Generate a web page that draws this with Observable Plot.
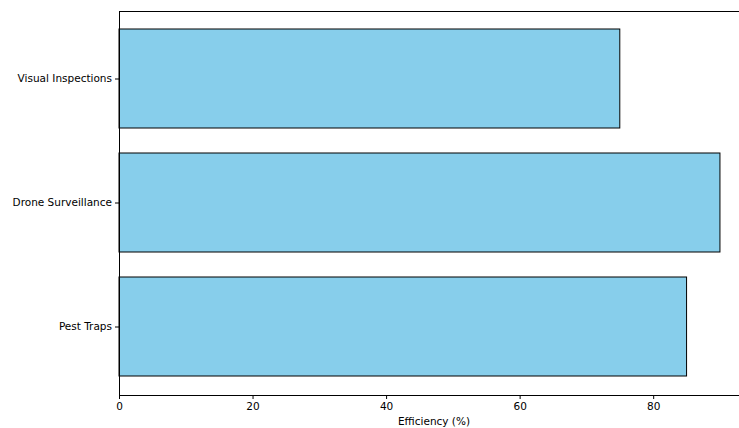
<!DOCTYPE html>
<html>
<head>
<meta charset="utf-8">
<script src="https://cdn.jsdelivr.net/npm/d3@7"></script>
<script src="https://cdn.jsdelivr.net/npm/@observablehq/plot@0.6"></script>
<style>
  html, body { margin: 0; padding: 0; background: #fff; }
  #chart { width: 739px; height: 428px; overflow: hidden; }
</style>
</head>
<body>
<div id="chart"></div>
<script>
const methods = ["Pest Traps", "Drone Surveillance", "Visual Inspections"];
const efficiency = [85, 90, 75];
const xTicks = [0, 20, 40, 60, 80];
const xLabel = "Efficiency (%)";

const data = methods.map((m, i) => ({method: m, value: efficiency[i]}));

const chart = Plot.plot({
  width: 739,
  height: 428,
  marginTop: 11,
  marginBottom: 33,
  marginLeft: 119,
  marginRight: -11,
  style: {fontFamily: "DejaVu Sans", fontSize: "10.5px", color: "#000", background: "#fff"},
  x: {domain: [0, 94.5], ticks: xTicks, tickSize: 4, tickPadding: 3, label: null},
  y: {domain: methods.slice().reverse(), paddingInner: 0.2, paddingOuter: 0.14, tickSize: 4, tickPadding: 3, label: null},
  marks: [
    Plot.barX(data, {x: "value", y: "method", fill: "#87CEEB", stroke: "#000", strokeWidth: 1}),
    Plot.ruleX([0], {stroke: "#000", strokeWidth: 1}),
    Plot.frame({anchor: "top", stroke: "#000", strokeWidth: 1}),
    Plot.frame({anchor: "bottom", stroke: "#000", strokeWidth: 1}),
    Plot.axisX({ticks: xTicks, tickSize: 4, tickPadding: 3, fontSize: 10.5, label: null}),
    Plot.axisY({tickSize: 4, tickPadding: 3.5, fontSize: 10.5, label: null}),
    Plot.text([xLabel], {frameAnchor: "bottom", dy: 29.5, fontSize: 10.5, textAnchor: "middle", x: () => 47.1})
  ]
});
document.getElementById("chart").appendChild(chart);
</script>
</body>
</html>
